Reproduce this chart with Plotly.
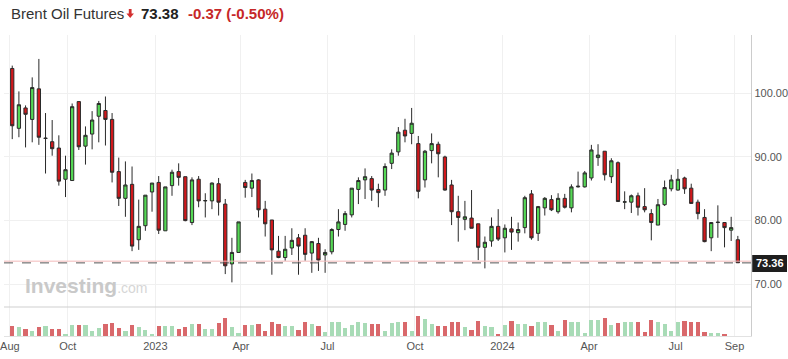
import plotly.graph_objects as go
import pandas as pd

W, H = 788, 359

# ---------------- data ----------------
week_start = pd.date_range("2022-07-31", periods=110, freq="7D")

opens = [103.9, 94.5, 97.7, 95.9, 100.7, 92.9, 92.4, 91.4, 86.5, 86.3,
         98.7, 91.7, 93.6, 96.4, 97.3, 95.9, 87.7, 83.5, 85.7, 77.0,
         79.2, 84.5, 86.0, 78.4, 85.5, 87.7, 86.9, 79.7, 86.5, 83.1,
         83.1, 85.8, 82.6, 73.2, 75.0, 86.0, 85.1, 86.4, 81.8, 80.1,
         75.2, 74.2, 75.7, 77.3, 77.7, 74.9, 76.4, 74.6, 75.1, 78.6,
         79.4, 80.9, 84.9, 86.4, 86.6, 84.9, 84.8, 89.0, 90.8, 94.2,
         93.7, 92.1, 86.4, 91.0, 92.0, 90.0, 85.6, 81.4, 80.2, 80.4,
         79.5, 75.8, 76.8, 79.1, 77.3, 78.7, 78.1, 78.9, 84.2, 78.0,
         82.0, 83.3, 81.4, 83.5, 82.0, 85.3, 85.3, 86.7, 89.9, 90.9,
         86.9, 89.1, 82.9, 82.9, 83.9, 82.2, 81.1, 79.3, 82.5, 85.0,
         84.8, 86.7, 85.1, 82.9, 80.5, 77.3, 79.7, 79.7, 78.5, 77.0]
highs = [104.35, 100.3, 98.1, 102.5, 105.4, 96.9, 95.8, 93.4, 90.2, 98.4,
         98.7, 94.8, 97.2, 98.8, 99.5, 96.9, 89.9, 89.3, 88.5, 83.3,
         84.0, 85.9, 87.0, 85.3, 88.0, 89.0, 86.9, 86.8, 87.0, 84.3,
         86.0, 86.7, 83.4, 77.3, 79.8, 86.4, 87.4, 86.5, 83.1, 80.1,
         77.6, 77.6, 78.8, 77.9, 78.8, 76.8, 77.3, 75.5, 78.8, 81.8,
         81.5, 85.1, 86.8, 88.2, 87.0, 85.8, 89.0, 91.2, 94.7, 96.0,
         97.7, 93.3, 91.1, 93.7, 92.4, 90.2, 86.4, 83.9, 83.1, 84.8,
         79.5, 77.5, 80.5, 81.8, 79.4, 80.6, 79.7, 83.9, 84.8, 82.3,
         83.7, 84.0, 84.3, 84.2, 85.7, 87.7, 87.8, 91.9, 92.0, 90.9,
         89.8, 89.3, 84.6, 84.1, 84.4, 85.1, 81.8, 83.4, 86.3, 87.2,
         88.1, 86.9, 85.8, 83.3, 81.8, 79.7, 82.4, 79.7, 80.6, 77.6]
lows = [92.8, 93.1, 91.5, 92.3, 91.9, 87.4, 90.2, 85.5, 83.7, 86.3,
        91.1, 88.8, 91.2, 92.3, 91.8, 86.0, 82.3, 80.6, 75.2, 75.4,
        78.4, 81.4, 77.9, 78.4, 83.9, 85.5, 79.9, 79.3, 82.1, 80.5,
        81.8, 80.8, 71.6, 70.3, 75.0, 83.6, 83.7, 80.5, 77.5, 71.5,
        74.1, 73.7, 74.6, 71.5, 73.7, 71.8, 72.1, 71.8, 74.7, 77.5,
        78.4, 80.5, 82.6, 83.4, 83.1, 82.1, 83.9, 88.1, 90.2, 92.3,
        92.0, 83.5, 85.2, 89.0, 86.8, 84.7, 79.3, 76.7, 78.5, 78.8,
        73.8, 72.5, 75.9, 76.8, 75.0, 75.4, 76.7, 78.0, 77.0, 76.8,
        80.8, 81.5, 81.1, 81.9, 81.3, 85.2, 85.2, 86.3, 88.6, 86.3,
        85.9, 83.0, 81.8, 81.2, 80.8, 81.3, 76.9, 79.3, 82.3, 84.6,
        84.7, 84.2, 82.7, 80.2, 76.6, 75.2, 77.3, 75.8, 76.8, 73.38]
closes = [94.9, 98.2, 96.7, 100.9, 93.1, 92.95, 91.3, 86.2, 88.0, 97.9,
          91.6, 93.4, 95.8, 98.4, 95.9, 87.6, 83.5, 85.6, 76.0, 79.1,
          84.0, 85.9, 78.5, 85.3, 87.6, 86.8, 80.0, 86.4, 83.1, 83.15,
          85.9, 82.9, 72.9, 75.0, 79.8, 85.2, 86.3, 81.7, 79.5, 75.4,
          74.2, 75.5, 76.9, 76.0, 74.7, 76.7, 73.8, 75.0, 78.6, 79.8,
          81.1, 85.1, 86.3, 86.9, 84.8, 84.4, 88.5, 90.6, 93.9, 93.3,
          95.3, 84.6, 90.9, 92.1, 90.5, 84.8, 81.4, 80.5, 80.6, 78.8,
          75.8, 76.6, 79.1, 77.1, 78.8, 78.2, 78.6, 83.6, 77.3, 82.2,
          83.5, 81.7, 83.5, 82.1, 85.3, 85.4, 87.5, 91.1, 90.3, 87.2,
          89.4, 83.0, 82.95, 83.9, 82.1, 81.7, 79.7, 82.5, 85.2, 86.4,
          86.5, 85.0, 82.7, 81.1, 76.7, 79.7, 79.75, 78.9, 78.9, 73.38]
# weekly volume, thousands of contracts (estimated)
volumes = [600, 520, 400, 280, 520, 560, 400, 400, 140, 660,
           620, 620, 280, 480, 680, 740, 460, 280, 620, 520,
           360, 140, 600, 600, 560, 420, 520, 720, 680, 400,
           400, 740, 1060, 500, 160, 620, 620, 700, 320, 800,
           700, 600, 600, 340, 840, 720, 560, 220, 800, 820,
           460, 660, 820, 780, 680, 700, 280, 760, 800, 800,
           300, 1200, 1000, 720, 560, 560, 800, 800, 520, 360,
           860, 600, 520, 140, 660, 900, 720, 700, 560, 820,
           820, 620, 320, 960, 820, 800, 200, 920, 940, 1060,
           620, 760, 800, 800, 800, 240, 960, 820, 720, 280,
           800, 900, 820, 800, 240, 200, 160, 80, 0, 0]

tick_dates = ["2022-08-01", "2022-10-01", "2023-01-01", "2023-04-01", "2023-07-01",
              "2023-10-01", "2024-01-01", "2024-04-01", "2024-07-01", "2024-09-01"]
tick_labels = ["Aug", "Oct", "2023", "Apr", "Jul", "Oct", "2024", "Apr", "Jul", "Sep"]
price_ticks = [70, 80, 90, 100]
price_labels = ["70.00", "80.00", "90.00", "100.00"]
last_price = 73.36
header_name = "Brent Oil Futures"
header_price = "73.38"
header_change = "-0.37 (-0.50%)"

# ---------------- geometry helpers ----------------
def px(x):
    return x / W

def py(y):
    return 1 - y / H

x_centers = week_start + pd.Timedelta(hours=84)
plot_right = 752
x_dom = [0, px(plot_right)]
price_dom = [py(307), py(35)]
vol_dom = [py(336), py(307)]

GREEN = "#55d855"
RED = "#d0181c"
VGREEN = "#a8dbb6"
VRED = "#d9686b"
FONT = "Liberation Sans, Arial, sans-serif"

vol_colors = [VGREEN if c >= o else VRED for o, c in zip(opens, closes)]

fig = go.Figure()
fig.add_trace(go.Candlestick(
    x=x_centers, open=opens, high=highs, low=lows, close=closes,
    increasing=dict(fillcolor=GREEN, line=dict(color="#2a2a2a", width=1)),
    decreasing=dict(fillcolor=RED, line=dict(color="#2a2a2a", width=1)),
    whiskerwidth=0, showlegend=False, hoverinfo="skip",
    xaxis="x", yaxis="y"))
fig.add_trace(go.Bar(
    x=x_centers, y=volumes, marker=dict(color=vol_colors, line=dict(width=0)),
    width=4.4 * 86400000, showlegend=False, hoverinfo="skip",
    xaxis="x", yaxis="y2"))

fig.update_layout(
    width=W, height=H, margin=dict(l=0, r=0, t=0, b=0),
    paper_bgcolor="white", plot_bgcolor="white",
    font=dict(family=FONT, size=11, color="#555"),
    xaxis=dict(type="date", domain=x_dom, anchor="y2",
               range=["2022-07-25 20:00", "2024-09-18 14:00"],
               tickvals=tick_dates, ticktext=tick_labels,
               showgrid=True, gridcolor="#f0f0f0", gridwidth=1,
               showline=True, linecolor="#e2e2e2", ticks="",
               ticklabeloverflow="allow",
               tickfont=dict(size=11, color="#555"),
               rangeslider=dict(visible=False), zeroline=False),
    yaxis=dict(domain=price_dom, anchor="x", side="right",
               range=[66.43, 109.16], tickvals=price_ticks, ticktext=price_labels,
               showgrid=True, gridcolor="#f0f0f0", zeroline=False,
               showline=True, linecolor="#cccccc", ticks="",
               ticklabeloverflow="allow",
               tickfont=dict(size=11, color="#555")),
    yaxis2=dict(domain=vol_dom, anchor="x", side="right",
                range=[0, 1700], showticklabels=False, showgrid=False,
                zeroline=False, showline=True, linecolor="#cccccc", ticks=""),
    bargap=0,
)

shapes = [
    # volume separator
    dict(type="line", xref="paper", yref="paper", x0=0, x1=px(plot_right),
         y0=py(307), y1=py(307), line=dict(color="#cfcfcf", width=1)),
    # last price lines
    dict(type="line", xref="paper", yref="y", x0=0, x1=px(plot_right),
         y0=last_price + 0.27, y1=last_price + 0.27, line=dict(color="#f3b9b9", width=1)),
    dict(type="line", xref="paper", yref="y", x0=0, x1=px(plot_right),
         y0=last_price, y1=last_price, line=dict(color="#555", width=1, dash="dash")),
    # price box
    dict(type="rect", xref="paper", yref="paper", x0=px(753), x1=px(788),
         y0=py(272), y1=py(255), fillcolor="#1e1e1e", line=dict(width=0)),
    # header arrow
    dict(type="path", xref="paper", yref="paper",
         path=(f"M {px(125.6)} {py(9)} L {px(128.4)} {py(9)} L {px(128.4)} {py(13.5)} "
               f"L {px(130.8)} {py(13.5)} L {px(127)} {py(18)} L {px(123.2)} {py(13.5)} "
               f"L {px(125.6)} {py(13.5)} Z"),
         fillcolor="#d32f2f", line=dict(width=0)),
]
fig.update_layout(shapes=shapes)

annotations = [
    dict(x=px(5), y=py(14), xref="paper", yref="paper", xanchor="left", yanchor="middle",
         text=header_name, showarrow=False, font=dict(size=15, color="#333", family=FONT)),
    dict(x=px(136), y=py(14), xref="paper", yref="paper", xanchor="left", yanchor="middle",
         text=f"<b>{header_price}</b>", showarrow=False, font=dict(size=15, color="#222", family=FONT)),
    dict(x=px(183), y=py(14), xref="paper", yref="paper", xanchor="left", yanchor="middle",
         text=f"<b>{header_change}</b>", showarrow=False, font=dict(size=15, color="#c62828", family=FONT)),
    dict(x=px(770.5), y=last_price, xref="paper", yref="y", xanchor="center", yanchor="middle",
         text=f"<b>{last_price:.2f}</b>", showarrow=False, font=dict(size=11, color="white", family=FONT)),
    dict(x=px(19), y=py(285), xref="paper", yref="paper", xanchor="left", yanchor="middle",
         text="<b>Investing</b><span style='font-size:14px;color:#d6d6d6'>.com</span>",
         showarrow=False, font=dict(size=21, color="#c9c9c9", family=FONT)),
]
fig.update_layout(annotations=annotations)

fig.write_html("out.html", config={"displayModeBar": False},
               post_script="document.body.style.margin='0';document.body.style.padding='0';")
